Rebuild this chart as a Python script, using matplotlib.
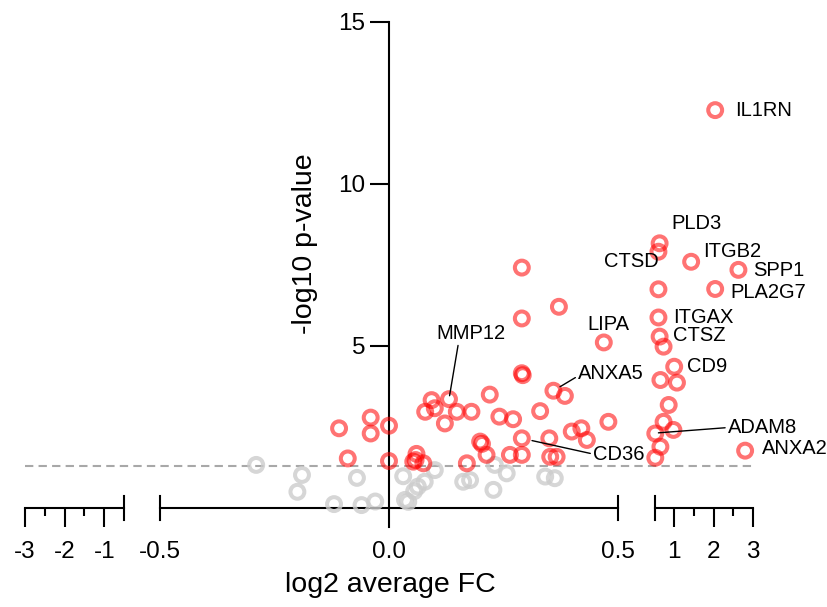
import matplotlib.pyplot as plt

plt.rcParams['font.family'] = ['Liberation Sans', 'DejaVu Sans']
plt.rcParams['axes.unicode_minus'] = False

# significant genes, middle part of the broken x axis (-0.5 .. 0.5)
mid_fc = [0.290, 0.371, 0.290, 0.469, 0.290, 0.292, 0.359, 0.384, 0.220, 0.131,
          0.093, 0.079, 0.100, 0.122, 0.148, 0.180, 0.241, 0.271, 0.330, 0.479,
          -0.109, -0.040, -0.040, 0.000, -0.090, 0.000, 0.060, 0.053, 0.058, 0.075,
          0.170, 0.199, 0.203, 0.290, 0.350, 0.399, 0.420, 0.432, 0.213, 0.264,
          0.290, 0.352, 0.366]
mid_p = [7.42, 6.21, 5.85, 5.11, 4.16, 4.10, 3.62, 3.46, 3.50, 3.36,
         3.33, 2.97, 3.08, 2.61, 2.97, 2.97, 2.82, 2.74, 2.99, 2.66,
         2.46, 2.79, 2.30, 2.54, 1.53, 1.45, 1.67, 1.43, 1.48, 1.38,
         1.38, 2.05, 1.98, 2.15, 2.15, 2.36, 2.46, 2.10, 1.64, 1.64,
         1.64, 1.58, 1.58]

# significant genes, right part (0.5 .. 3)
right_fc = [2.04, 0.63, 0.60, 1.43, 2.63, 0.60, 2.04, 0.60, 0.63, 0.73,
            1.00, 0.65, 1.07, 0.86, 0.73, 0.98, 0.52, 0.65, 0.52, 2.80]
right_p = [12.28, 8.17, 7.91, 7.60, 7.35, 6.75, 6.76, 5.88, 5.29, 4.98,
           4.36, 3.95, 3.87, 3.18, 2.66, 2.41, 2.30, 1.89, 1.55, 1.77]

# not significant
ns_fc = [-0.29, -0.19, -0.20, -0.12, -0.06, -0.03, -0.07, 0.031, 0.035, 0.042,
         0.055, 0.063, 0.078, 0.10, 0.162, 0.177, 0.228, 0.231, 0.257, 0.341, 0.362]
ns_p = [1.33, 1.02, 0.50, 0.12, 0.09, 0.20, 0.93, 0.98, 0.25, 0.19,
        0.52, 0.66, 0.81, 1.17, 0.81, 0.86, 0.56, 1.33, 1.07, 0.97, 0.92]

threshold = 1.3

RED = 'red'
GREY = '#cccccc'


def rings(ax, xs, ys, color, alpha):
    ax.scatter(xs, ys, s=100, facecolors='none', edgecolors=color,
               linewidths=2.9, alpha=alpha, clip_on=False, zorder=3)


def cap(ax, x):
    f = 12 / 486
    ax.axvline(x, ymin=-f, ymax=f, color='k', lw=1.5, clip_on=False, zorder=2.6)


fig = plt.figure(figsize=(8.27, 6.07), dpi=100)
W, H = 827, 607
bot = (H - 508) / H
hgt = 486 / H
ax_l = fig.add_axes([25 / W, bot, 99 / W, hgt])
ax_m = fig.add_axes([160 / W, bot, 458 / W, hgt])
ax_r = fig.add_axes([654.5 / W, bot, 98.5 / W, hgt])

for ax in (ax_l, ax_m, ax_r):
    ax.set_ylim(0, 15)
    ax.patch.set_visible(False)
    for s in ('top', 'right', 'left'):
        ax.spines[s].set_visible(False)
    ax.spines['bottom'].set_linewidth(1.5)
    ax.tick_params(axis='x', which='major', direction='out', length=13.5,
                   width=1.5, labelsize=17.5, pad=10.5)
    ax.tick_params(axis='x', which='minor', direction='out', length=6, width=1.5)

ax_l.set_xlim(-3, -0.5)
ax_m.set_xlim(-0.5, 0.5)
ax_r.set_xlim(0.5, 3)

ax_l.set_xticks([-3, -2, -1])
ax_l.set_xticks([-2.5, -1.5], minor=True)
ax_r.set_xticks([1, 2, 3])
ax_r.set_xticks([1.5, 2.5], minor=True)
ax_m.set_xticks([-0.5, 0, 0.5], ['-0.5', '0.0', '0.5'])
ax_m.tick_params(axis='x', which='major', length=0, pad=24)

for ax in (ax_l, ax_r):
    ax.set_yticks([])

# y axis through x = 0
ax_m.spines['left'].set_visible(True)
ax_m.spines['left'].set_position(('data', 0))
ax_m.spines['left'].set_linewidth(1.5)
ax_m.spines['left'].set_bounds(-0.6, 15)
ax_m.set_yticks([5, 10, 15])
ax_m.tick_params(axis='y', direction='out', length=13.5, width=1.5,
                 labelsize=17.5, pad=3.5)
ax_m.set_ylabel('-log10 p-value', fontsize=20.5)
ax_m.yaxis.set_label_coords((318 - 160) / 458, (508 - 244) / 486)

cap(ax_l, -0.5)
cap(ax_m, -0.5)
cap(ax_m, 0.5)
cap(ax_r, 0.5)

ax_m.axhline(threshold, xmin=(25 - 160) / 458, xmax=(755 - 160) / 458,
             color='#a8a8a8', lw=1.5, dashes=(4, 2.5), clip_on=False, zorder=1)

rings(ax_m, ns_fc, ns_p, GREY, 0.8)
rings(ax_m, mid_fc, mid_p, RED, 0.55)
rings(ax_r, right_fc, right_p, RED, 0.55)

fig.text(390 / W, (H - 585) / H, 'log2 average FC', fontsize=20.5,
         ha='center', va='center')

lab = dict(fontsize=14.5, textcoords='offset points', va='center',
           annotation_clip=False)
line = dict(arrowstyle='-', color='k', lw=1, shrinkA=0, shrinkB=4)

ax_r.annotate('IL1RN', (2.04, 12.28), (14.4, 0), ha='left', **lab)
ax_r.annotate('PLD3', (0.63, 8.17), (8.4, 13.9), ha='left', **lab)
ax_r.annotate('CTSD', (0.60, 7.91), (0.5, -7.4), ha='right', **lab)
ax_r.annotate('ITGB2', (1.43, 7.60), (8.6, 7.7), ha='left', **lab)
ax_r.annotate('SPP1', (2.63, 7.35), (10.6, -0.7), ha='left', **lab)
ax_r.annotate('PLA2G7', (2.04, 6.76), (10.8, -2.2), ha='left', **lab)
ax_r.annotate('ITGAX', (0.60, 5.88), (10.6, 0.3), ha='left', **lab)
ax_r.annotate('CTSZ', (0.63, 5.29), (9.9, 0.6), ha='left', **lab)
ax_r.annotate('CD9', (1.00, 4.36), (9.1, 0.5), ha='left', **lab)
ax_r.annotate('ANXA2', (2.80, 1.77), (12.2, 1.2), ha='left', **lab)
ax_r.annotate('ADAM8', (0.60, 2.32), (50, 3.8), ha='left',
              arrowprops=dict(line, relpos=(0, 0.5), shrinkB=0), **lab)
ax_m.annotate('CD36', (0.290, 2.15), (51.3, -11.3), ha='left',
              arrowprops=dict(line, relpos=(0, 0.5), shrinkB=7.5), **lab)
ax_m.annotate('ANXA5', (0.359, 3.62), (17.8, 12.7), ha='left',
              arrowprops=dict(line, relpos=(0, 0.35), shrinkB=5.5), **lab)
ax_m.annotate('LIPA', (0.469, 5.11), (3.2, 13.2), ha='center', **lab)
ax_m.annotate('MMP12', (0.131, 3.36), (15.8, 47.5), ha='center',
              arrowprops=dict(line, relpos=(0.32, 0), shrinkB=2.5), **lab)

fig.savefig('out.png', dpi=100)
